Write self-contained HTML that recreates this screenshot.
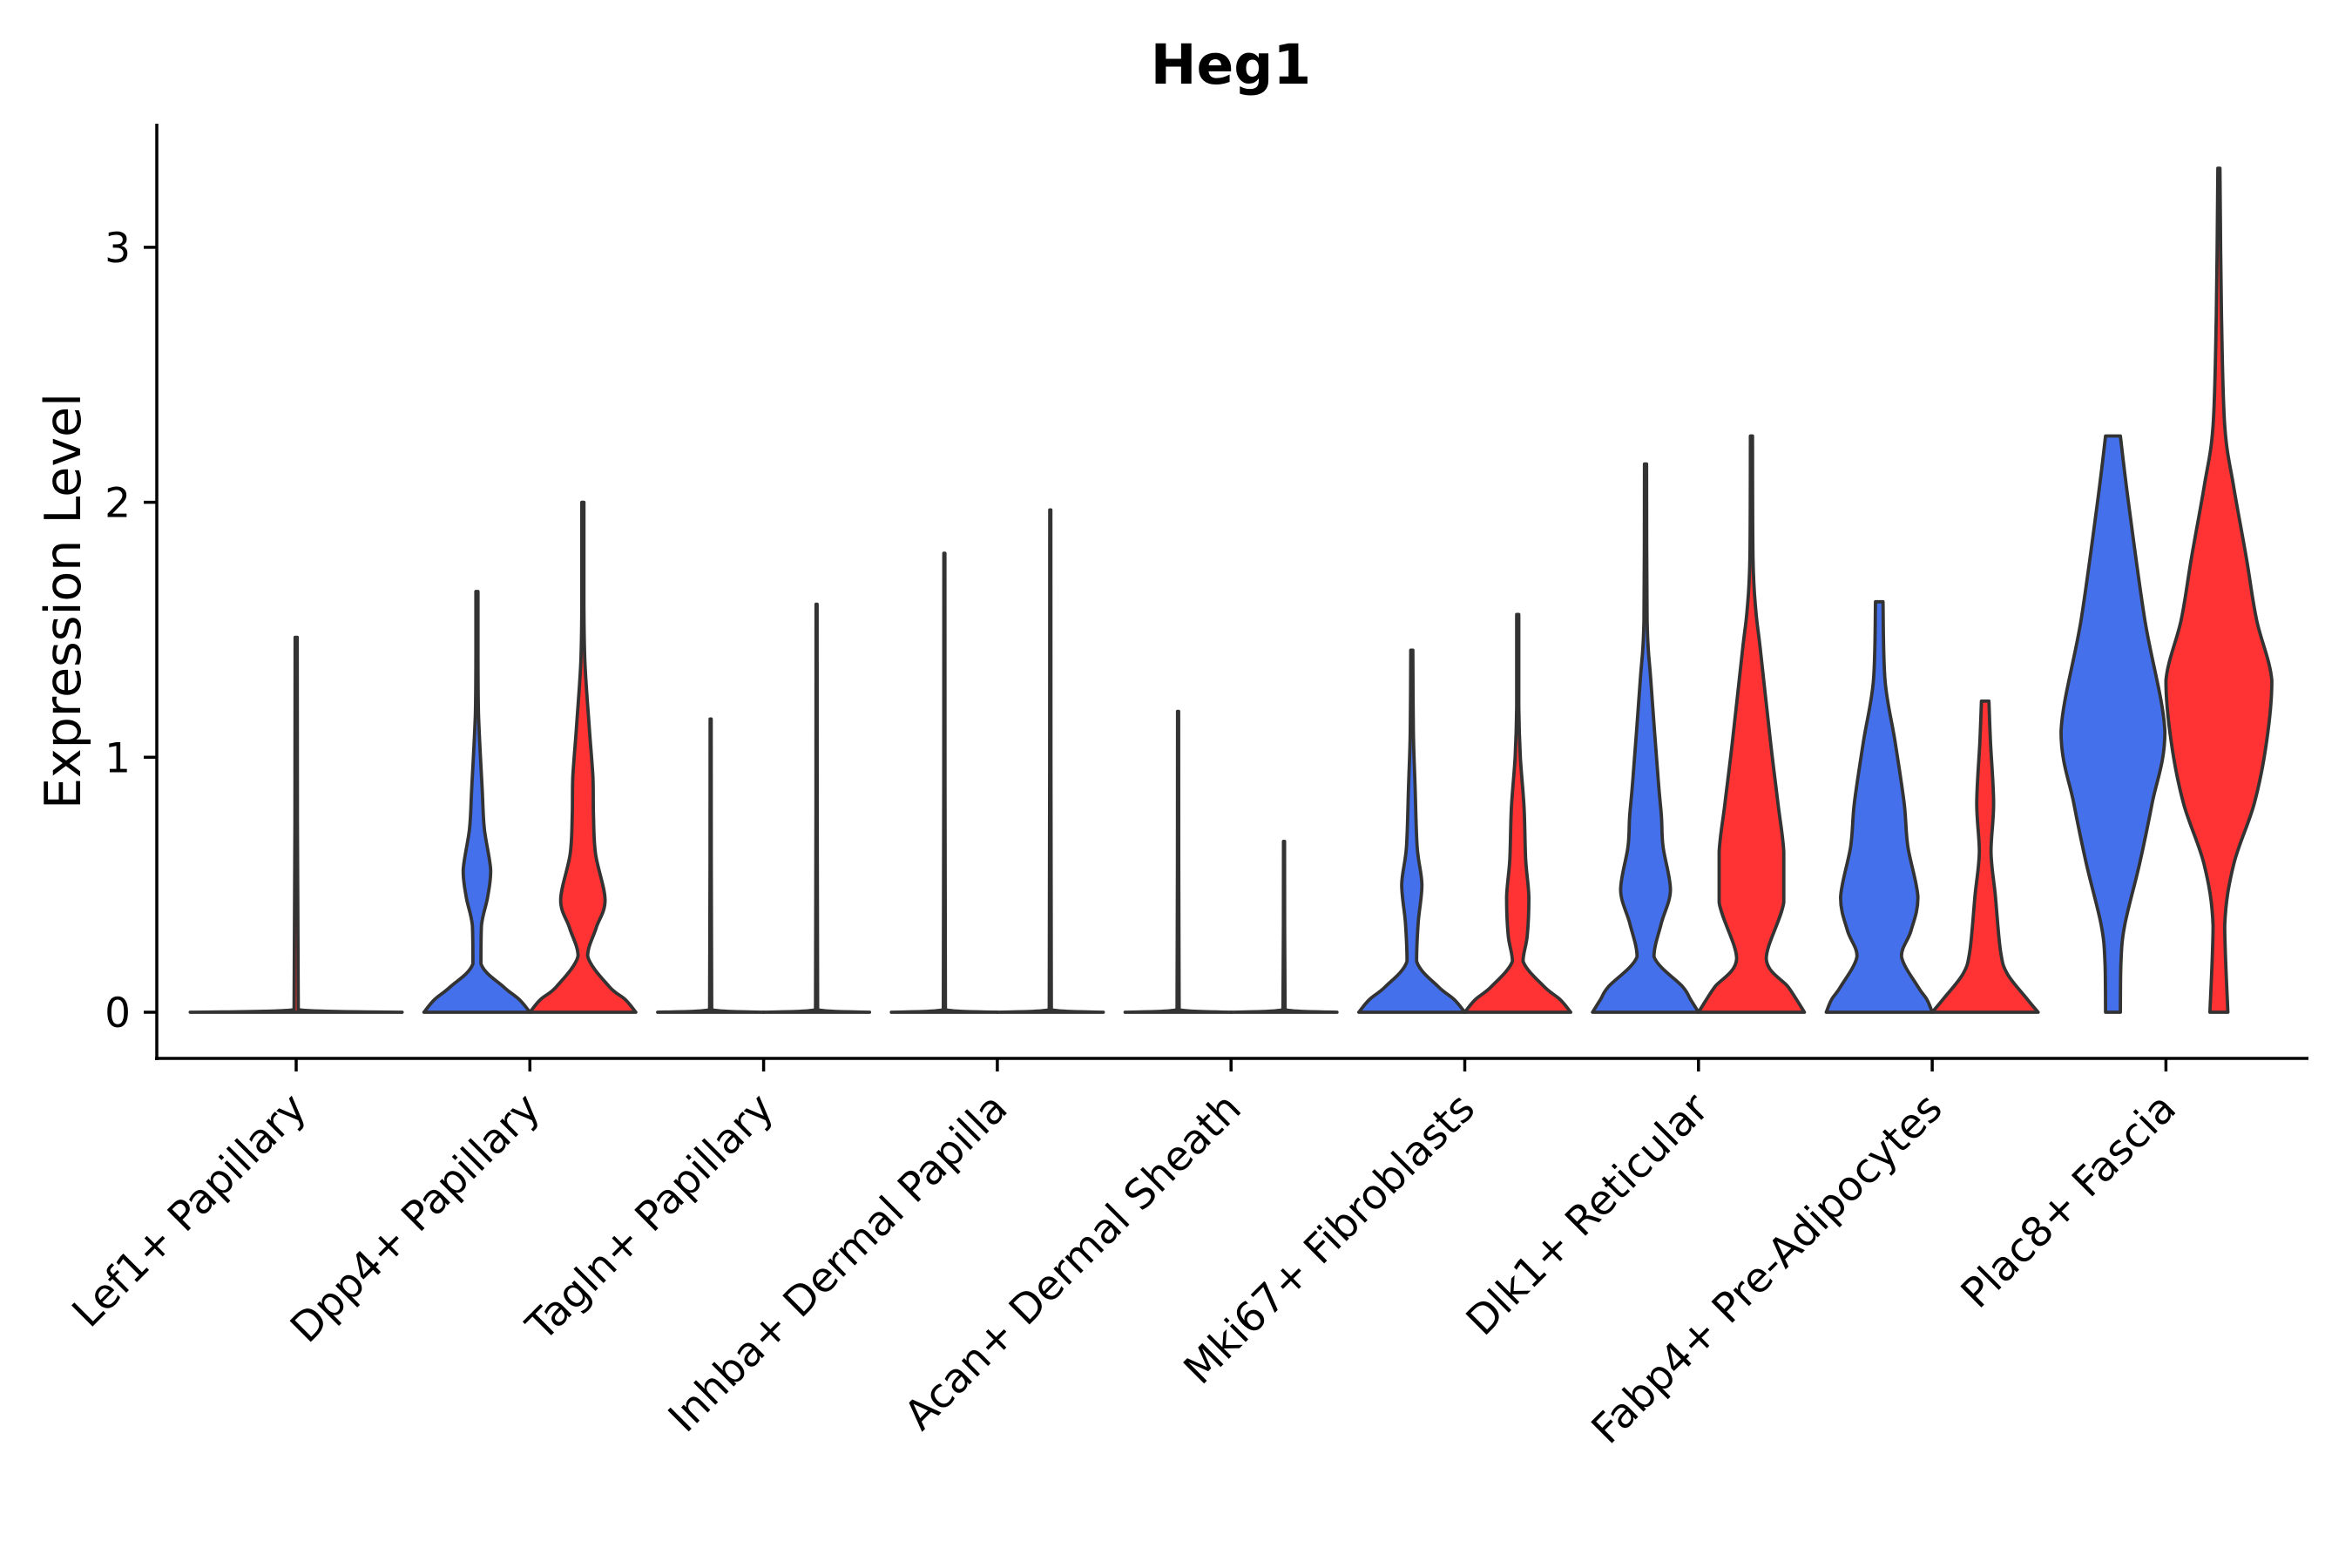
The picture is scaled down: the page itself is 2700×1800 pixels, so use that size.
<!DOCTYPE html>
<html><head><meta charset="utf-8"><style>
html,body{margin:0;padding:0;background:#fff;}
svg{display:block;font-family:"DejaVu Sans","Liberation Sans",sans-serif;}
</style></head><body>
<svg id="chart" width="2700" height="1800" viewBox="0 0 2700 1800" xmlns="http://www.w3.org/2000/svg">
<rect width="2700" height="1800" fill="#fff"/>
<text x="1413" y="96" text-anchor="middle" font-size="63" font-weight="bold">Heg1</text>
<text transform="translate(92,690) rotate(-90)" text-anchor="middle" font-size="57">Expression Level</text>
<g id="violins"></g>
<g id="axes"></g>
</svg>
<script>
const categories = ["Lef1+ Papillary","Dpp4+ Papillary","Tagln+ Papillary","Inhba+ Dermal Papilla","Acan+ Dermal Sheath","Mki67+ Fibroblasts","Dlk1+ Reticular","Fabp4+ Pre-Adipocytes","Plac8+ Fascia"];
const yTicks = [0,1,2,3];
// density profiles: [value, relative half-width]
const blueProfiles = [
  null,
  [[0,1],[0.05,0.8],[0.1,0.5],[0.19,0.075],[0.34,0.085],[0.45,0.2],[0.556,0.26],[0.72,0.14],[0.87,0.1],[1.17,0.03],[1.4,0.02],[1.65,0.02]],
  [[0,1],[0.01,0.02],[1.15,0.01]],
  [[0,1],[0.01,0.02],[1.8,0.01]],
  [[0,1],[0.01,0.02],[1.18,0.01]],
  [[0,1],[0.05,0.8],[0.1,0.5],[0.2,0.09],[0.35,0.12],[0.5,0.19],[0.65,0.1],[0.9,0.06],[1.1,0.03],[1.42,0.02]],
  [[0,1],[0.05,0.85],[0.1,0.7],[0.218,0.16],[0.35,0.3],[0.48,0.47],[0.65,0.33],[0.77,0.3],[0.91,0.24],[1.3,0.1],[1.54,0.03],[2.15,0.02]],
  [[0,1],[0.05,0.9],[0.1,0.73],[0.22,0.42],[0.32,0.6],[0.45,0.73],[0.65,0.54],[0.82,0.47],[1.06,0.3],[1.3,0.11],[1.61,0.07]],
  [[0,0.14],[0.19,0.15],[0.34,0.22],[0.58,0.5],[0.82,0.74],[1.1,0.98],[1.54,0.6],[2.02,0.28],[2.26,0.14]]
];
const redProfiles = [
  [[0,1],[0.01,0.02],[1.47,0.01]],
  [[0,1],[0.05,0.8],[0.1,0.5],[0.22,0.09],[0.33,0.25],[0.44,0.42],[0.62,0.24],[0.77,0.2],[0.92,0.19],[1.12,0.12],[1.37,0.04],[1.6,0.02],[2.0,0.02]],
  [[0,1],[0.01,0.02],[1.6,0.01]],
  [[0,1],[0.01,0.02],[1.97,0.01]],
  [[0,1],[0.01,0.02],[0.67,0.01]],
  [[0,1],[0.05,0.8],[0.1,0.5],[0.2,0.1],[0.3,0.18],[0.45,0.21],[0.6,0.15],[0.8,0.12],[1.0,0.05],[1.2,0.02],[1.56,0.02]],
  [[0,1],[0.05,0.85],[0.1,0.69],[0.21,0.28],[0.43,0.61],[0.63,0.61],[0.82,0.5],[1.06,0.36],[1.42,0.17],[1.58,0.08],[1.78,0.03],[2.26,0.02]],
  [[0,1],[0.05,0.8],[0.15,0.42],[0.24,0.29],[0.46,0.19],[0.63,0.11],[0.82,0.16],[1.06,0.1],[1.22,0.07]],
  [[0,0.17],[0.34,0.11],[0.58,0.28],[0.82,0.67],[1.06,0.9],[1.3,1.0],[1.54,0.71],[1.78,0.52],[2.06,0.28],[2.3,0.11],[2.73,0.05],[3.31,0.02]]
];
const NS='http://www.w3.org/2000/svg';
const X0=340, STEP=268.3, HALF=60.8;
const Y0=1162, UNIT=292.7;
function xScale(i){return X0+STEP*i;}
function yScale(v){return Y0-v*UNIT;}
function f(n){return n.toFixed(1);}
function clamp(v,a,b){const lo=Math.min(a,b),hi=Math.max(a,b);return Math.max(lo,Math.min(hi,v));}
function spline(pts){
  let d='';
  for(let i=0;i<pts.length-1;i++){
    const p0=pts[Math.max(0,i-1)],p1=pts[i],p2=pts[i+1],p3=pts[Math.min(pts.length-1,i+2)];
    const c1=[clamp(p1[0]+(p2[0]-p0[0])/6,p1[0],p2[0]),clamp(p1[1]+(p2[1]-p0[1])/6,p1[1],p2[1])];
    const c2=[clamp(p2[0]-(p3[0]-p1[0])/6,p1[0],p2[0]),clamp(p2[1]-(p3[1]-p1[1])/6,p1[1],p2[1])];
    d+='C'+f(c1[0])+','+f(c1[1])+' '+f(c2[0])+','+f(c2[1])+' '+f(p2[0])+','+f(p2[1]);
  }
  return d;
}
function violinPath(cx, hw, prof){
  const right=prof.map(p=>[cx+p[1]*hw, yScale(p[0])]);
  const left=prof.slice().reverse().map(p=>[cx-p[1]*hw, yScale(p[0])]);
  return 'M'+f(right[0][0])+','+f(right[0][1])+spline(right)+'L'+f(left[0][0])+','+f(left[0][1])+spline(left)+'Z';
}
const vg=document.getElementById('violins');
categories.forEach((c,i)=>{
  const cx=xScale(i);
  const b=blueProfiles[i], r=redProfiles[i];
  const groups=[];
  if(b&&r){groups.push([b,cx-HALF,HALF,'#4570EB','blue']);groups.push([r,cx+HALF,HALF,'#FF3333','red']);}
  else if(r){groups.push([r,cx,HALF*2,'#FF3333','red']);}
  else if(b){groups.push([b,cx,HALF*2,'#4570EB','blue']);}
  groups.forEach(g=>{
    const p=document.createElementNS(NS,'path');
    p.setAttribute('d',violinPath(g[1],g[2],g[0]));
    p.setAttribute('fill',g[3]);
    p.setAttribute('stroke','#333');
    p.setAttribute('stroke-width','3.8');
    p.setAttribute('stroke-linejoin','round');
    
    
    vg.appendChild(p);
  });
});
const ag=document.getElementById('axes');
function line(x1,y1,x2,y2,name){
  const l=document.createElementNS(NS,'line');
  l.setAttribute('x1',x1);l.setAttribute('y1',y1);l.setAttribute('x2',x2);l.setAttribute('y2',y2);
  l.setAttribute('stroke','#000');l.setAttribute('stroke-width','3.5');
  
  
  ag.appendChild(l);
}
line(180,142,180,1217,'y-axis-line');
line(178,1215,2650,1215,'x-axis-line');
yTicks.forEach(t=>{
  line(165,yScale(t),180,yScale(t),'y-tick');
  const tx=document.createElementNS(NS,'text');
  tx.setAttribute('x',150);tx.setAttribute('y',yScale(t)+17);
  tx.setAttribute('text-anchor','end');tx.setAttribute('font-size','47');
  tx.textContent=t;
  
  
  ag.appendChild(tx);
});
categories.forEach((c,i)=>{
  const x=xScale(i);
  line(x,1215,x,1230,'x-tick');
  const tx=document.createElementNS(NS,'text');
  const px=x+14, py=1275;
  tx.setAttribute('x',px);tx.setAttribute('y',py);
  tx.setAttribute('text-anchor','end');tx.setAttribute('font-size','47');
  tx.setAttribute('transform','rotate(-45 '+px+' '+py+')');
  tx.textContent=c;
  
  
  ag.appendChild(tx);
});
</script>
</body></html>
